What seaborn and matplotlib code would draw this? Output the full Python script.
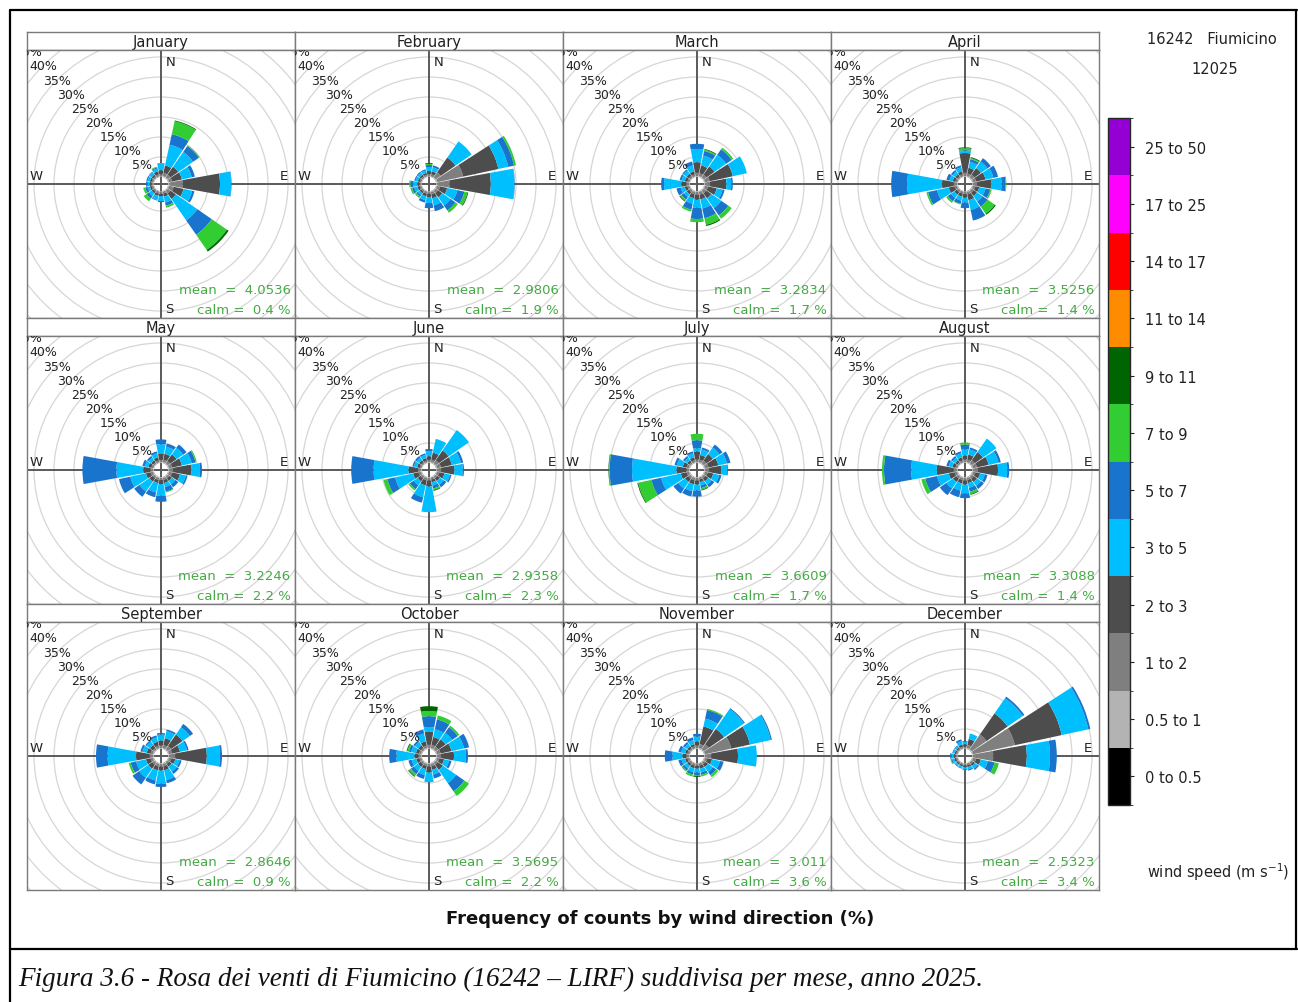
import numpy as np
import matplotlib
matplotlib.use("Agg")
import matplotlib.pyplot as plt
import seaborn as sns
from matplotlib.patches import Wedge, Circle
from matplotlib.lines import Line2D
from matplotlib.colors import ListedColormap, BoundaryNorm
from matplotlib.cm import ScalarMappable

MONTHS = ["January", "February", "March", "April", "May", "June",
          "July", "August", "September", "October", "November", "December"]
DIRECTIONS = ["N", "NNE", "NE", "ENE", "E", "ESE", "SE", "SSE",
              "S", "SSW", "SW", "WSW", "W", "WNW", "NW", "NNW"]
SPEED_LABELS = ["0 to 0.5", "0.5 to 1", "1 to 2", "2 to 3", "3 to 5", "5 to 7",
                "7 to 9", "9 to 11", "11 to 14", "14 to 17", "17 to 25", "25 to 50"]
SPEED_COLOURS = ["#000000", "#B3B3B3", "#7F7F7F", "#4D4D4D", "#00BFFF", "#1874CD",
                 "#32CD32", "#006400", "#FF8C00", "#FF0000", "#FF00FF", "#9400D3"]
MEAN_SPEED = ["4.0536", "2.9806", "3.2834", "3.5256", "3.2246", "2.9358",
              "3.6609", "3.3088", "2.8646", "3.5695", "3.011", "2.5323"]
CALM_PCT = [0.4, 1.9, 1.7, 1.4, 2.2, 2.3, 1.7, 1.4, 0.9, 2.2, 3.6, 3.4]
RING_PCT = [5, 10, 15, 20, 25, 30, 35, 40, 45]

# frequency (%) by direction (rows, N..NNW)
# columns: speed classes 0.5-1, 1-2, 2-3, 3-5, 5-7, 7-9, 9-11 m/s
JAN = [[0.2, 0.5, 1.0, 1.8, 0, 0, 0], [0.3, 0.8, 1.9, 5.3, 2.7, 3.3, 0.2],
       [0.3, 0.8, 2.4, 4.5, 1.8, 0.2, 0], [0.3, 0.8, 2.5, 2.5, 0.8, 0, 0],
       [0.4, 3.3, 9.3, 2.8, 0.1, 0, 0], [0.3, 1.2, 2.5, 2.2, 0.6, 0, 0],
       [0.3, 0.8, 1.7, 6.5, 4.4, 4.6, 0.5], [0.2, 0.5, 0.8, 1.5, 0.8, 0.5, 0],
       [0.2, 0.5, 0.6, 1.2, 0.3, 0, 0], [0.2, 0.5, 0.6, 1.0, 0.2, 0, 0],
       [0.2, 0.4, 0.5, 0.8, 0.8, 0.8, 0], [0.2, 0.4, 0.5, 0.6, 0.6, 0.5, 0],
       [0.2, 0.4, 0.5, 0.5, 0.4, 0, 0], [0.2, 0.4, 0.5, 0.6, 0.3, 0, 0],
       [0.2, 0.4, 0.5, 0.7, 0.2, 0, 0], [0.2, 0.5, 0.8, 0.7, 0.3, 0.2, 0]]
FEB = [[0.2, 0.5, 0.8, 1.0, 0.5, 0.3, 0.2], [0.2, 0.5, 0.8, 1.0, 0.5, 0, 0],
       [0.3, 1.5, 4.5, 4.9, 0, 0, 0], [0.4, 6.6, 9.0, 2.5, 1.5, 0.5, 0],
       [0.4, 3.0, 10.3, 5.9, 0.1, 0, 0], [0.3, 0.8, 1.8, 2.6, 1.8, 0.8, 0.2],
       [0.3, 0.7, 1.3, 2.5, 1.5, 0.7, 0], [0.3, 0.6, 1.0, 1.8, 1.5, 0, 0],
       [0.2, 0.5, 0.8, 1.5, 1.3, 0, 0], [0.2, 0.5, 0.7, 1.0, 0.6, 0, 0],
       [0.2, 0.4, 0.5, 0.6, 0.4, 0.3, 0.1], [0.2, 0.4, 0.6, 0.8, 0.6, 0.4, 0],
       [0.2, 0.4, 0.6, 1.0, 0.7, 0.3, 0], [0.2, 0.4, 0.5, 0.6, 0.3, 0, 0],
       [0.2, 0.4, 0.5, 0.6, 0.3, 0, 0], [0.2, 0.4, 0.5, 0.6, 0.3, 0, 0]]
MAR = [[0.3, 0.8, 2.6, 3.3, 1.3, 0, 0], [0.3, 0.7, 2.0, 2.5, 1.2, 0.3, 0.2],
       [0.3, 0.8, 2.5, 3.5, 1.7, 0.5, 0], [0.3, 1.2, 5.9, 3.6, 0, 0, 0],
       [0.3, 1.2, 4.1, 1.2, 0.4, 0, 0], [0.3, 0.8, 2.2, 1.5, 0.5, 0, 0],
       [0.3, 0.8, 1.5, 3.0, 2.2, 1.0, 0], [0.3, 0.7, 1.2, 2.3, 2.5, 1.7, 0.3],
       [0.3, 0.7, 1.2, 2.0, 2.8, 0.8, 0], [0.3, 0.6, 1.0, 1.4, 1.5, 0.5, 0],
       [0.2, 0.5, 0.7, 0.8, 0.8, 0.4, 0.2], [0.2, 0.5, 0.7, 1.0, 1.1, 0, 0],
       [0.3, 0.6, 1.3, 4.3, 0.7, 0, 0], [0.2, 0.5, 0.7, 0.8, 0.5, 0, 0],
       [0.2, 0.5, 0.7, 0.9, 0.4, 0, 0], [0.2, 0.5, 0.8, 1.5, 1.0, 0, 0]]
APR = [[0.3, 0.8, 4.9, 0.5, 0.2, 0.5, 0.2], [0.3, 0.6, 1.5, 1.5, 0.7, 0.3, 0.2],
       [0.3, 0.8, 2.0, 2.0, 1.0, 0, 0], [0.3, 0.8, 2.4, 2.0, 1.2, 0, 0],
       [0.3, 1.0, 3.5, 2.6, 1.0, 0.2, 0], [0.3, 0.6, 1.0, 1.6, 1.2, 0.3, 0],
       [0.3, 0.6, 1.0, 1.7, 1.5, 2.2, 0.3], [0.3, 0.6, 1.5, 2.5, 2.7, 0, 0],
       [0.2, 0.6, 0.9, 1.2, 1.4, 0, 0], [0.2, 0.5, 0.8, 1.0, 0.8, 0.2, 0],
       [0.2, 0.5, 0.8, 1.0, 1.0, 0.5, 0], [0.3, 0.6, 1.5, 3.0, 2.3, 0.4, 0],
       [0.3, 0.8, 2.9, 8.7, 4.0, 0, 0], [0.2, 0.5, 0.7, 0.8, 0.8, 0, 0],
       [0.2, 0.4, 0.6, 0.8, 0.5, 0, 0], [0.2, 0.5, 0.8, 1.0, 0.5, 0, 0]]
MAY = [[0.3, 0.5, 1.5, 2.4, 1.2, 0, 0], [0.3, 0.6, 1.5, 1.8, 0.8, 0, 0],
       [0.3, 0.7, 2.0, 2.0, 1.0, 0, 0], [0.3, 0.8, 2.5, 2.5, 1.0, 0.3, 0],
       [0.3, 1.0, 4.5, 2.2, 0.5, 0, 0], [0.3, 0.8, 2.0, 1.5, 0.4, 0, 0],
       [0.3, 0.5, 0.8, 1.0, 0.9, 0, 0], [0.3, 0.5, 0.8, 1.0, 1.2, 0.2, 0],
       [0.3, 0.5, 1.0, 2.9, 1.5, 0, 0], [0.3, 0.5, 0.8, 2.4, 1.2, 0, 0],
       [0.3, 0.5, 1.0, 3.0, 1.6, 0, 0], [0.3, 0.6, 1.2, 4.0, 2.9, 0, 0],
       [0.3, 0.6, 1.8, 6.7, 8.5, 0, 0], [0.2, 0.5, 0.8, 0.9, 0.6, 0, 0],
       [0.2, 0.4, 0.6, 0.8, 0.5, 0, 0], [0.2, 0.5, 0.8, 1.0, 0.5, 0, 0]]
JUN = [[0.3, 0.5, 0.9, 1.3, 0.5, 0, 0], [0.3, 0.6, 1.8, 3.5, 0, 0, 0],
       [0.3, 0.9, 3.0, 6.2, 0, 0, 0], [0.3, 1.0, 2.8, 2.3, 0.6, 0, 0],
       [0.3, 1.0, 3.3, 2.1, 0.3, 0, 0], [0.3, 0.6, 1.3, 1.4, 0.4, 0, 0],
       [0.3, 0.5, 0.8, 1.1, 0.8, 0, 0], [0.2, 0.5, 0.7, 0.8, 0.8, 0.4, 0.2],
       [0.3, 0.6, 1.5, 6.4, 0, 0, 0], [0.3, 0.6, 1.3, 3.0, 1.4, 0, 0],
       [0.3, 0.5, 0.9, 1.2, 1.2, 0.4, 0], [0.3, 0.6, 1.4, 4.6, 2.0, 1.0, 0],
       [0.3, 0.7, 2.4, 8.7, 5.6, 0, 0], [0.2, 0.4, 0.7, 0.8, 0.4, 0, 0],
       [0.2, 0.4, 0.6, 0.8, 0.5, 0, 0], [0.2, 0.4, 0.7, 0.8, 0.4, 0, 0]]
JUL = [[0.3, 0.6, 2.0, 0.8, 2.0, 1.6, 0], [0.3, 0.6, 1.2, 1.4, 0.5, 0, 0],
       [0.3, 0.8, 2.0, 2.0, 0.9, 0, 0], [0.3, 0.9, 2.5, 2.2, 0.9, 0, 0],
       [0.3, 1.0, 3.0, 1.5, 0.2, 0, 0], [0.3, 0.7, 1.4, 1.5, 0.6, 0, 0],
       [0.3, 0.5, 0.9, 1.0, 0.8, 0, 0], [0.2, 0.5, 0.7, 0.8, 0.7, 0.4, 0.2],
       [0.3, 0.6, 1.0, 1.5, 1.5, 0, 0], [0.3, 0.6, 1.0, 1.8, 1.3, 0, 0],
       [0.3, 0.6, 1.0, 2.0, 1.5, 0, 0], [0.3, 0.6, 1.5, 5.0, 2.5, 3.4, 0.2],
       [0.3, 0.6, 2.5, 11.1, 5.6, 0.2, 0.1], [0.3, 0.6, 1.0, 1.5, 0.6, 0, 0],
       [0.2, 0.4, 0.6, 0.8, 0.5, 0, 0], [0.2, 0.5, 0.8, 1.0, 0.5, 0, 0]]
AUG = [[0.3, 0.6, 1.0, 1.5, 1.2, 0.5, 0], [0.3, 0.6, 1.3, 1.3, 0.5, 0, 0],
       [0.3, 0.9, 2.5, 4.1, 0, 0, 0], [0.3, 1.0, 3.0, 2.5, 0.6, 0, 0],
       [0.3, 1.2, 5.0, 2.3, 0.5, 0, 0], [0.3, 0.6, 1.2, 1.2, 0.7, 0, 0],
       [0.3, 0.6, 1.0, 1.2, 0.9, 0, 0], [0.3, 0.5, 0.8, 1.2, 1.0, 0.6, 0.2],
       [0.3, 0.6, 1.0, 2.2, 1.2, 0, 0], [0.3, 0.5, 0.9, 1.8, 1.7, 0, 0],
       [0.3, 0.6, 1.0, 2.0, 2.0, 0, 0], [0.3, 0.6, 1.5, 3.0, 3.0, 1.0, 0],
       [0.3, 0.8, 4.2, 6.4, 6.8, 0.5, 0], [0.2, 0.5, 0.8, 0.9, 0.6, 0, 0],
       [0.2, 0.4, 0.6, 0.8, 0.5, 0, 0], [0.2, 0.5, 0.8, 1.0, 0.5, 0, 0]]
SEP = [[0.3, 0.6, 1.2, 1.5, 0.4, 0, 0], [0.3, 0.7, 1.8, 1.8, 0.4, 0, 0],
       [0.3, 1.0, 3.5, 2.2, 1.0, 0, 0], [0.3, 0.8, 2.0, 1.8, 0.4, 0, 0],
       [0.3, 1.5, 7.9, 3.3, 0.5, 0, 0], [0.3, 0.6, 1.0, 1.1, 0.5, 0, 0],
       [0.2, 0.5, 0.8, 1.5, 0.7, 0, 0], [0.3, 0.6, 1.0, 2.5, 0.8, 0, 0],
       [0.3, 0.6, 1.0, 3.3, 0.8, 0, 0], [0.3, 0.6, 1.0, 2.6, 1.0, 0, 0],
       [0.3, 0.6, 1.2, 2.8, 2.0, 0, 0], [0.3, 0.6, 1.2, 2.5, 1.4, 0.5, 0],
       [0.3, 0.8, 3.4, 7.1, 2.9, 0, 0], [0.3, 0.6, 1.0, 1.1, 0.5, 0, 0],
       [0.2, 0.5, 0.9, 1.0, 0.4, 0, 0], [0.3, 0.6, 1.0, 1.1, 0.5, 0, 0]]
OCT = [[0.3, 0.8, 3.2, 1.2, 2.7, 1.3, 1.2], [0.3, 0.8, 2.0, 2.0, 2.5, 1.0, 0],
       [0.3, 0.8, 2.2, 2.0, 1.7, 0.5, 0], [0.3, 0.9, 2.8, 3.2, 1.3, 0, 0],
       [0.3, 1.0, 3.2, 3.0, 0.5, 0, 0], [0.3, 0.6, 1.2, 1.3, 0.6, 0, 0],
       [0.3, 0.6, 1.6, 4.0, 2.5, 1.4, 0], [0.3, 0.6, 0.9, 1.2, 1.0, 0, 0],
       [0.3, 0.6, 1.5, 2.4, 0, 0, 0], [0.3, 0.5, 0.8, 1.5, 1.0, 0, 0],
       [0.3, 0.5, 0.8, 1.2, 1.0, 0.6, 0.2], [0.2, 0.5, 0.8, 1.2, 0.8, 0, 0],
       [0.3, 0.6, 1.0, 4.5, 1.8, 0, 0], [0.3, 0.5, 0.8, 1.2, 0.6, 0.4, 0.2],
       [0.2, 0.5, 0.8, 1.0, 0.5, 0, 0], [0.3, 0.6, 1.1, 2.0, 1.0, 0, 0]]
NOV = [[0.3, 0.6, 1.0, 1.2, 0.7, 0, 0], [0.3, 1.0, 4.5, 2.0, 2.2, 0.3, 0],
       [0.3, 1.5, 4.7, 6.0, 0.3, 0, 0], [0.3, 6.7, 4.8, 5.3, 0.3, 0, 0],
       [0.3, 1.5, 6.7, 4.7, 0, 0, 0], [0.3, 0.6, 1.2, 2.0, 0.9, 0, 0],
       [0.3, 0.5, 0.8, 1.5, 1.0, 0.6, 0], [0.2, 0.5, 0.8, 1.0, 0.6, 0.4, 0],
       [0.2, 0.5, 0.7, 1.0, 0.6, 0.3, 0.2], [0.2, 0.5, 0.7, 1.0, 0.6, 0.5, 0],
       [0.2, 0.5, 0.6, 0.8, 0.6, 0.3, 0], [0.2, 0.5, 0.6, 0.9, 0.8, 0, 0],
       [0.3, 0.6, 1.0, 2.5, 1.9, 0, 0], [0.2, 0.5, 0.6, 1.0, 0.7, 0, 0],
       [0.2, 0.4, 0.6, 0.8, 0.5, 0, 0], [0.2, 0.5, 0.6, 1.0, 0.7, 0, 0]]
DEC = [[0.2, 0.4, 0.6, 0.6, 0.2, 0, 0], [0.3, 0.8, 1.5, 1.4, 0, 0, 0],
       [0.3, 4.5, 6.4, 4.6, 0.5, 0, 0], [0.3, 10.7, 12.0, 6.8, 0.5, 0, 0],
       [0.3, 5.0, 8.4, 5.8, 1.7, 0, 0], [0.3, 0.8, 1.2, 1.8, 1.7, 1.1, 0],
       [0.2, 0.5, 0.6, 0.8, 0.4, 0, 0], [0.2, 0.4, 0.5, 0.6, 0.3, 0, 0],
       [0.2, 0.4, 0.5, 0.5, 0.2, 0, 0], [0.2, 0.3, 0.4, 0.4, 0.2, 0, 0],
       [0.2, 0.3, 0.4, 0.4, 0.2, 0, 0], [0.2, 0.3, 0.5, 0.5, 0.3, 0.2, 0],
       [0.2, 0.4, 0.5, 0.5, 0.4, 0, 0], [0.2, 0.3, 0.4, 0.4, 0.2, 0, 0],
       [0.2, 0.3, 0.4, 0.4, 0.2, 0, 0], [0.2, 0.4, 0.6, 0.8, 0.5, 0, 0]]
MONTH_DATA = [JAN, FEB, MAR, APR, MAY, JUN, JUL, AUG, SEP, OCT, NOV, DEC]

W_PX, H_PX = 1298, 1003
HOLE = 1.75          # radius of the empty centre, in % units
LIM = 33.5           # half range of each panel, in % units
HALF_SECTOR = 10.3   # half width of a petal in degrees (sectors are 22.5)
PANEL_GREY = "#7a7a7a"
TEXT_GREEN = "#44aa44"

sns.set_style("white")
plt.rcParams["font.family"] = ["DejaVu Sans"]
palette = sns.color_palette(SPEED_COLOURS)


def fx(px):
    return px / W_PX


def fh(px):
    return px / H_PX


def draw_rose(ax, table, mean, calm):
    ax.set_xlim(-LIM, LIM)
    ax.set_ylim(-LIM, LIM)
    ax.set_xticks([])
    ax.set_yticks([])
    for sp in ax.spines.values():
        sp.set_color(PANEL_GREY)
        sp.set_linewidth(1.0)

    for p in RING_PCT:
        ax.add_patch(Circle((0, 0), HOLE + p, fill=False, ec="#d6d6d6", lw=0.9, zorder=1))
    ax.axhline(0, color="#5a5a5a", lw=1.4, zorder=2)
    ax.axvline(0, color="#5a5a5a", lw=1.4, zorder=2)

    freq = np.array(table, dtype=float)
    for d in range(len(DIRECTIONS)):
        theta = 90 - d * 22.5
        edges = HOLE + np.concatenate([[0], np.cumsum(freq[d])])
        for k in range(freq.shape[1]):
            if freq[d, k] <= 0:
                continue
            ax.add_patch(Wedge((0, 0), edges[k + 1], theta - HALF_SECTOR, theta + HALF_SECTOR,
                               width=edges[k + 1] - edges[k], fc=palette[k + 1],
                               ec="none", zorder=3))

    # ring labels along the NW diagonal
    for p in RING_PCT:
        rr = (HOLE + p) / np.sqrt(2)
        ax.text(-rr, rr, f"{p}%", ha="center", va="center", fontsize=9,
                color="#222222", zorder=4, clip_on=True)

    ax.text(1.1, 30.7, "N", ha="left", va="center", fontsize=9.5, color="#222222")
    ax.text(1.1, -31.1, "S", ha="left", va="center", fontsize=9.5, color="#222222")
    ax.text(30.8, 2.2, "E", ha="center", va="center", fontsize=9.5, color="#222222")
    ax.text(-31.2, 2.2, "W", ha="center", va="center", fontsize=9.5, color="#222222")

    ax.text(32.4, -26.3, f"mean  =  {mean}", ha="right", va="center",
            fontsize=9.5, color=TEXT_GREEN, zorder=5)
    ax.text(32.4, -31.3, f"calm =  {calm} %", ha="right", va="center",
            fontsize=9.5, color=TEXT_GREEN, zorder=5)


fig = plt.figure(figsize=(W_PX / 100, H_PX / 100), dpi=100)

for i, month in enumerate(MONTHS):
    row, col = divmod(i, 4)
    x0 = 27 + 268 * col
    top = 33 + 286 * row
    strip = fig.add_axes([fx(x0), 1 - fh(top + 18), fx(268), fh(18)])
    strip.set_xticks([])
    strip.set_yticks([])
    for sp in strip.spines.values():
        sp.set_color(PANEL_GREY)
        sp.set_linewidth(1.0)
    strip.text(0.5, 0.45, month, ha="center", va="center", fontsize=10.5,
               color="#222222", transform=strip.transAxes)

    ax = fig.add_axes([fx(x0), 1 - fh(top + 18 + 268), fx(268), fh(268)])
    draw_rose(ax, MONTH_DATA[i], MEAN_SPEED[i], CALM_PCT[i])

# speed legend
cax = fig.add_axes([fx(1108), 1 - fh(806), fx(22), fh(806 - 119)])
cmap = ListedColormap(SPEED_COLOURS)
norm = BoundaryNorm(np.arange(len(SPEED_COLOURS) + 1), cmap.N)
cb = fig.colorbar(ScalarMappable(norm=norm, cmap=cmap), cax=cax,
                  ticks=np.arange(len(SPEED_LABELS)) + 0.5)
cb.set_ticklabels(SPEED_LABELS)
cb.ax.tick_params(length=3, width=0.8, labelsize=10.5, pad=8, colors="#222222")
cb.outline.set_linewidth(1.0)

fig.text(fx(1212), 1 - fh(39), "16242   Fiumicino", ha="center", va="center",
         fontsize=10.5, color="#222222")
fig.text(fx(1215), 1 - fh(70), "12025", ha="center", va="center",
         fontsize=10.5, color="#222222")
fig.text(fx(1218), 1 - fh(872), r"wind speed (m s$^{-1}$)", ha="center", va="center",
         fontsize=10.5, color="#222222")

fig.text(fx(660), 1 - fh(919), "Frequency of counts by wind direction (%)",
         ha="center", va="center", fontsize=13, fontweight="bold", color="#111111")

fig.text(fx(18), 1 - fh(979),
         "Figura 3.6 - Rosa dei venti di Fiumicino (16242 \u2013 LIRF) suddivisa per mese, anno 2025.",
         ha="left", va="center", fontsize=19.5, style="italic",
         family=["Liberation Serif", "DejaVu Serif"], color="#111111")

# page frame
for xs, ys in [((10, 1297), (11, 11)), ((10, 10), (11, 1003)),
               ((1296, 1296), (11, 950)), ((10, 1297), (950, 950))]:
    fig.add_artist(Line2D([fx(v) for v in xs], [1 - fh(v) for v in ys],
                          color="black", lw=1.6, transform=fig.transFigure))

fig.savefig("out.png", dpi=100)
